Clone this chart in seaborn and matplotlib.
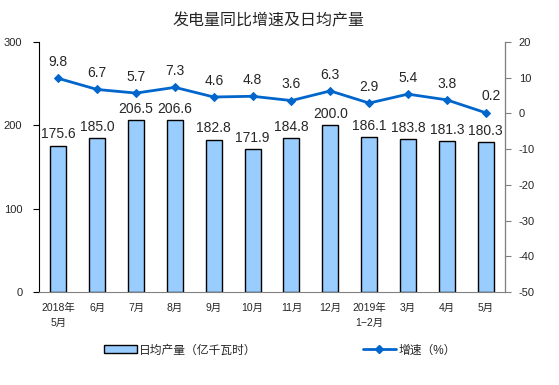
import numpy as np
import pandas as pd
import matplotlib
matplotlib.use("Agg")
import matplotlib.pyplot as plt
from matplotlib.patches import Patch
from matplotlib.lines import Line2D
import seaborn as sns

months = ["2018年\n5月", "6月", "7月", "8月", "9月", "10月", "11月", "12月",
          "2019年\n1−2月", "3月", "4月", "5月"]
daily_output = [175.6, 185.0, 206.5, 206.6, 182.8, 171.9, 184.8, 200.0,
                186.1, 183.8, 181.3, 180.3]
growth = [9.8, 6.7, 5.7, 7.3, 4.6, 4.8, 3.6, 6.3, 2.9, 5.4, 3.8, 0.2]

sns.set_style("white")
plt.rcParams["font.family"] = ["Liberation Sans", "Noto Sans CJK SC", "DejaVu Sans"]
plt.rcParams["axes.unicode_minus"] = False

bar_color = "#99CCFF"
line_color = "#0066CC"

df = pd.DataFrame({"month": months, "output": daily_output,
                   "growth": growth, "pos": np.arange(len(months))})

fig = plt.figure(figsize=(5.59, 3.85), dpi=100)
ax = fig.add_axes([0.0698, 0.2416, 0.8336, 0.6493])

sns.barplot(data=df, x="month", y="output", color=bar_color, width=0.41,
            edgecolor="black", linewidth=1.0, saturation=1, ax=ax)
ax.set_xlim(-0.5, len(months) - 0.5)
ax.set_ylim(0, 300)
ax.set_yticks([0, 100, 200, 300])
ax.set_xlabel("")
ax.set_ylabel("")

for i, v in enumerate(daily_output):
    ax.text(i, v + 5, f"{v:.1f}", ha="center", va="bottom", fontsize=10)

ax2 = ax.twinx()
sns.lineplot(data=df, x="pos", y="growth", color=line_color, linewidth=2,
             marker="D", markersize=4.5, markeredgecolor=line_color, ax=ax2)
ax2.set_ylim(-50, 20)
ax2.set_yticks(range(-50, 21, 10))
ax2.set_xlim(-0.5, len(months) - 0.5)
ax2.set_xlabel("")
ax2.set_ylabel("")

for i, v in enumerate(growth):
    dx = 0.15 if i == len(growth) - 1 else 0
    ax2.text(i + dx, v + 2.6, f"{v:.1f}", ha="center", va="bottom", fontsize=10)

# ticks and spines
ax.set_xticks(range(len(months)))
ax.set_xticklabels(months, fontsize=7.5, linespacing=1.6)
ax.set_xticks(np.arange(-0.5, len(months), 1), minor=True)
ax.tick_params(axis="x", which="major", length=0, pad=8)
ax.tick_params(axis="x", which="minor", length=4, color="#808080", direction="out")
ax.tick_params(axis="y", length=4, color="black", direction="out", labelsize=8, pad=8)
ax2.tick_params(axis="y", length=4, color="#808080", direction="out", labelsize=8, pad=6)

for a in (ax, ax2):
    a.spines["top"].set_visible(False)
ax.spines["left"].set_color("black")
ax.spines["bottom"].set_color("#808080")
ax2.spines["right"].set_color("#808080")
ax2.spines["left"].set_visible(False)
ax2.spines["bottom"].set_visible(False)

fig.text(0.48, 0.945, "发电量同比增速及日均产量", ha="center", va="center", fontsize=11.5)

handles = [Patch(facecolor=bar_color, edgecolor="black", linewidth=1.0),
           Line2D([0], [0], color=line_color, linewidth=2, marker="D", markersize=4.5)]
labels = ["日均产量（亿千瓦时）", "增速（%）"]
fig.legend(handles, labels, loc="center", bbox_to_anchor=(0.5, 0.09), ncol=2,
           frameon=False, fontsize=8.5, columnspacing=9, handlelength=2.8,
           handleheight=0.6, handletextpad=0.2)

fig.savefig("out.png", dpi=100)
